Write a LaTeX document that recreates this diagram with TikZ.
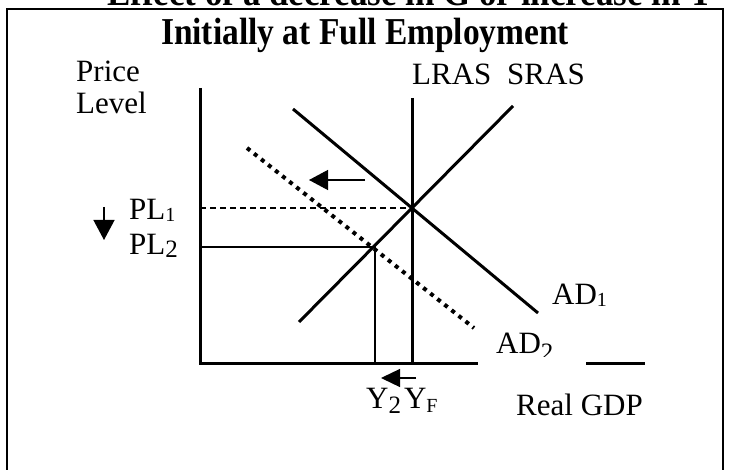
\documentclass[tikz,border=0pt]{standalone}
\usepackage{fontspec}
\setmainfont{Liberation Serif}
\usetikzlibrary{arrows.meta}
\begin{document}
\begin{tikzpicture}[x=1pt,y=-1pt,
  lbl/.style={inner sep=0pt,anchor=base west,font=\fontsize{31}{33}\selectfont},
  ttl/.style={inner sep=0pt,anchor=base,font=\bfseries\fontsize{38}{40}\selectfont},
  thick3/.style={line width=3pt},
  thin/.style={line width=1.3pt},
  bigarrow/.style={thin,-{Triangle[length=19pt,width=20pt]}}]
\useasboundingbox (0,0) rectangle (731,470);
\clip (0,0) rectangle (731,470);
% frame
\draw[line width=2.5pt] (7,480) -- (7,9) -- (723,9) -- (723,480);
% titles
\node[ttl,xscale=0.92] (t0) at (410,6) {Effect of a decrease in G or increase in T};
\node[ttl,xscale=0.88] (t1) at (365,45) {Initially at Full Employment};
% axis labels
\node[lbl] (price) at (76,82) {Price};
\node[lbl] (level) at (76,114) {Level};
\node[lbl] (lras) at (412,85) {LRAS};
\node[lbl] (sras) at (507,85) {SRAS};
% coordinates
\coordinate (o) at (200,363);
\coordinate (ytop) at (200,88);
\coordinate (xend) at (645,363);
\coordinate (lrasT) at (412,98);
\coordinate (lrasB) at (412,363);
\coordinate (srasB) at (299,322);
\coordinate (srasT) at (513,106);
\coordinate (ad1T) at (293,109);
\coordinate (ad1B) at (538,313);
\coordinate (ad2T) at (247,148);
\coordinate (ad2B) at (474,328);
\coordinate (e1) at (412,208);
\coordinate (e2) at (375,247);
\coordinate (pl1) at (200,208);
\coordinate (pl2) at (200,247);
\coordinate (y2) at (375,363);
% axes
\draw[thick3] (ytop) -- (o) -- (xend);
% guides
\draw[thin,dash pattern=on 6pt off 4pt] (pl1) -- (e1);
\draw[thin] (pl2) -- (e2) -- (y2);
% curves
\draw[thick3] (lrasT) -- (lrasB);
\draw[thick3] (srasB) -- (srasT);
\draw[thick3] (ad1T) -- (ad1B);
\draw[line width=4pt,dash pattern=on 4pt off 5pt] (ad2T) -- (ad2B);
% arrows
\coordinate (a1s) at (365,180);
\coordinate (a1e) at (309,180);
\draw[bigarrow] (a1s) -- (a1e);
\coordinate (a2s) at (416,378);
\coordinate (a2e) at (381,378);
\draw[thin,-{Triangle[length=19pt,width=18pt]}] (a2s) -- (a2e);
\coordinate (a3s) at (104,207);
\coordinate (a3e) at (104,240);
\draw[thin,-{Triangle[length=20pt,width=21pt]}] (a3s) -- (a3e);
% price labels
\node[lbl] (pl1t) at (129,220) {PL\raisebox{-2pt}{\fontsize{20}{20}\selectfont 1}};
\node[lbl] (pl2t) at (129,255) {PL\raisebox{-3pt}{\fontsize{25}{25}\selectfont 2}};
% AD labels
\node[lbl] (ad1t) at (552,305) {AD\raisebox{-2pt}{\fontsize{20}{20}\selectfont 1}};
\fill[white] (478,338) rectangle (586,367);
\begin{scope}
\clip (470,300) rectangle (600,356);
\node[lbl] (ad2t) at (496,353) {AD\raisebox{-7pt}{\fontsize{25}{25}\selectfont 2}};
\end{scope}
% x labels
\node[lbl] (y2t) at (366,408) {Y\raisebox{-5pt}{\fontsize{25}{25}\selectfont 2}\kern3pt Y\raisebox{-4pt}{\fontsize{20}{20}\selectfont F}};
\node[lbl] (rgdp) at (516,415) {Real GDP};
\end{tikzpicture}
\end{document}
